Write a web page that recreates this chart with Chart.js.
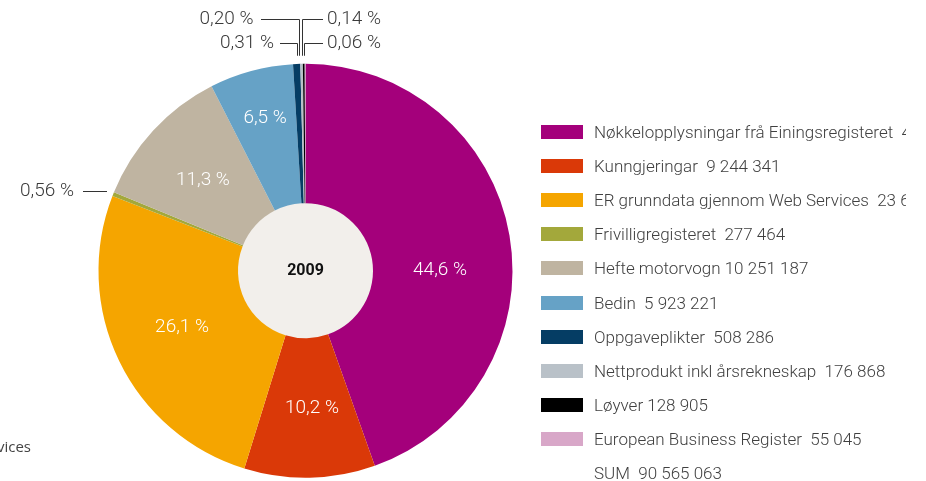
<!DOCTYPE html>
<html>
<head>
<meta charset="utf-8">
<script src="https://cdn.jsdelivr.net/npm/chart.js@4.4.1/dist/chart.umd.min.js"></script>
<style>
    html, body { margin: 0; padding: 0; background: #fff; }
    .wrap { position: relative; width: 926px; height: 481px; overflow: hidden; font-family: Roboto, "Noto Sans", sans-serif; }
    #pie { position: absolute; left: 0; top: 0; }
    .legend { position: absolute; left: 541px; top: 115px; width: 365px; overflow: hidden; }
    .legend-row { height: 34.1px; display: flex; align-items: center; white-space: pre; font-size: 17px; font-weight: 300; color: #404040; }
    .swatch { width: 42px; height: 14px; margin-right: 11px; flex: none; }
    .stray { position: absolute; right: 895px; top: 436px; line-height: 20px; font-family: "Open Sans", sans-serif; font-size: 15px; color: #444; white-space: nowrap; }
</style>
</head>
<body>
<div class="wrap">
    <canvas id="pie" width="926" height="481"></canvas>
    <div class="legend" id="legend"></div>
    <div class="stray" id="stray"></div>
</div>
<script>
const categories = [
    "Nøkkelopplysningar frå Einingsregisteret",
    "Kunngjeringar",
    "ER grunndata gjennom Web Services",
    "Frivilligregisteret",
    "Hefte motorvogn",
    "Bedin",
    "Oppgaveplikter",
    "Nettprodukt inkl årsrekneskap",
    "Løyver",
    "European Business Register",
];
// the two biggest are cut off in the legend, estimated from 44,6 % and 26,1 %
const values = [40362265, 9244341, 23637481, 277464, 10251187, 5923221, 508286, 176868, 128905, 55045];
const pctLabels = ["44,6 %", "10,2 %", "26,1 %", "0,56 %", "11,3 %", "6,5 %", "0,31 %", "0,20 %", "0,14 %", "0,06 %"];
const sliceColors = ["#a4007b", "#da3908", "#f5a500", "#a3a83b", "#bfb4a1", "#66a2c6", "#053d64", "#b9c1c8", "#000000", "#d8a7c8"];
const legendGap = ["  ", "  ", "  ", "  ", " ", "  ", "  ", "  ", " ", "  "];
const centerTitle = "2009";
const sumLabel = "SUM";

// inside labels: [radius as share of outer radius, angle nudge in degrees]
const insidePlace = { 0: [0.65, 9.7], 1: [0.667, -1.5], 2: [0.655, 1.4], 4: [0.662, -1.1], 5: [0.763, 0.4] };

const fmt = (n) => String(n).replace(/\B(?=(\d{3})+(?!\d))/g, " ");

function buildLegend() {
    const rows = categories.map((name, i) =>
        `<div class="legend-row"><span class="swatch" style="background:${sliceColors[i]}"></span>${name}${legendGap[i]}${fmt(values[i])}</div>`);
    const total = values.reduce((s, v) => s + v, 0);
    rows.push(`<div class="legend-row"><span class="swatch"></span>${sumLabel}  ${fmt(total)}</div>`);
    document.getElementById("legend").innerHTML = rows.join("");
    // label text spilling out on the left edge in the original
    document.getElementById("stray").textContent = categories[2];
}

const pieDecor = {
    id: "pieDecor",
    beforeDatasetsDraw(chart) {
        const arc = chart.getDatasetMeta(0).data[0];
        const ctx = chart.ctx;
        ctx.save();
        ctx.fillStyle = "#f2efeb";
        ctx.beginPath();
        ctx.arc(arc.x, arc.y, arc.innerRadius + 0.5, 0, Math.PI * 2);
        ctx.fill();
        ctx.restore();
    },
    afterDatasetsDraw(chart) {
        const arcs = chart.getDatasetMeta(0).data;
        const ctx = chart.ctx;
        const cx = arcs[0].x, cy = arcs[0].y, R = arcs[0].outerRadius;
        const top = cy - R;

        ctx.save();
        ctx.textBaseline = "middle";

        ctx.fillStyle = "#111";
        ctx.font = "bold 16px Roboto, sans-serif";
        ctx.textAlign = "center";
        ctx.fillText(centerTitle, cx, cy);

        ctx.fillStyle = "#fff";
        ctx.font = "300 19px Roboto, sans-serif";
        Object.keys(insidePlace).forEach((k) => {
            const a = arcs[k];
            const [rf, nudge] = insidePlace[k];
            const mid = (a.startAngle + a.endAngle) / 2 + nudge * Math.PI / 180;
            ctx.fillText(pctLabels[k], cx + Math.cos(mid) * R * rf, cy + Math.sin(mid) * R * rf);
        });

        // leader lines for the thin slices
        ctx.strokeStyle = "#333";
        ctx.lineWidth = 1;
        ctx.fillStyle = "#3a3a3a";
        const px = (v) => Math.round(v) + 0.5;

        const gy = px(cy - 80);
        ctx.beginPath();
        ctx.moveTo(cx - 222.5, gy);
        ctx.lineTo(cx - 198.5, gy);
        ctx.stroke();
        ctx.textAlign = "right";
        ctx.fillText(pctLabels[3], cx - 231.5, gy);

        const tops = [
            { i: 6, vx: -8.8, row: -20.75, end: -25.5, tx: -31.5, align: "right" },
            { i: 7, vx: -6.8, row: -44.75, end: -44.5, tx: -52, align: "right" },
            { i: 8, vx: -3.8, row: -44.75, end: 17.5, tx: 21.5, align: "left" },
            { i: 9, vx: -1.5, row: -20.75, end: 17.5, tx: 21.5, align: "left" },
        ];
        tops.forEach((t) => {
            const x = px(cx + t.vx), y = px(top + t.row);
            ctx.beginPath();
            ctx.moveTo(x, top - 8);
            ctx.lineTo(x, y);
            ctx.lineTo(cx + t.end, y);
            ctx.stroke();
            ctx.textAlign = t.align;
            ctx.fillText(pctLabels[t.i], cx + t.tx, y);
        });
        ctx.restore();
    },
};

function renderPie() {
    new Chart(document.getElementById("pie"), {
        type: "doughnut",
        data: {
            labels: categories,
            datasets: [{
                data: values,
                backgroundColor: sliceColors,
                borderWidth: 0,
                hoverOffset: 0,
            }],
        },
        options: {
            responsive: false,
            animation: false,
            cutout: 67.5,
            layout: { padding: { left: 98.5, top: 63.75, right: 413.5, bottom: 3.25 } },
            plugins: { legend: { display: false }, tooltip: { enabled: false } },
            events: [],
        },
        plugins: [pieDecor],
    });
}

buildLegend();
renderPie();
</script>
</body>
</html>
